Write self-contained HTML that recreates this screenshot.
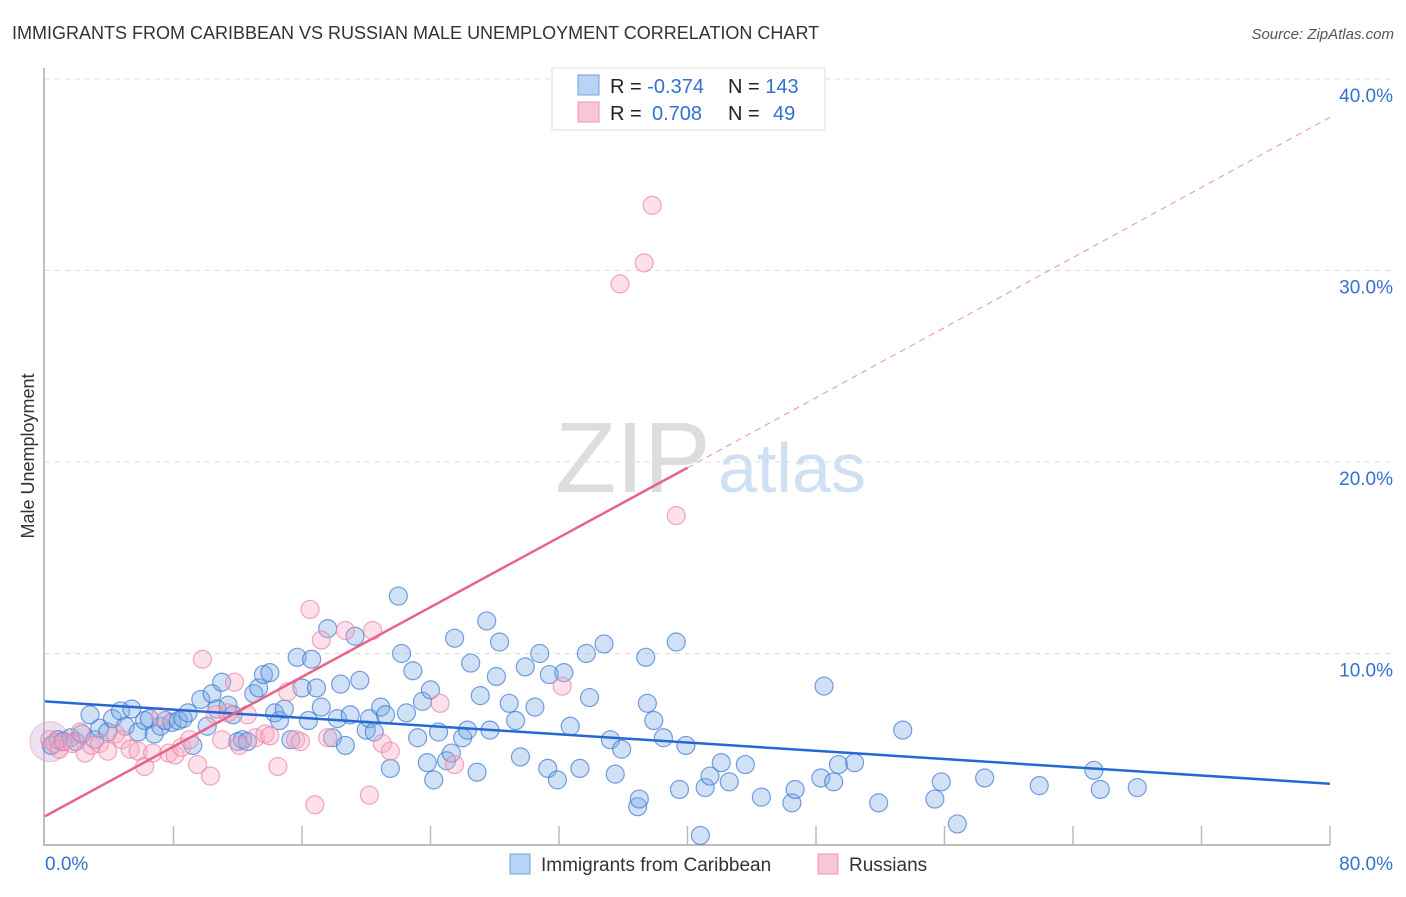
<!DOCTYPE html>
<html><head><meta charset="utf-8"><style>
body{margin:0;background:#fff;font-family:"Liberation Sans",sans-serif;}
svg text{font-family:"Liberation Sans",sans-serif;}
</style></head><body>
<svg id="chart" width="1406" height="892" xmlns="http://www.w3.org/2000/svg">
<text x="12" y="39" font-size="18" fill="#333">IMMIGRANTS FROM CARIBBEAN VS RUSSIAN MALE UNEMPLOYMENT CORRELATION CHART</text>
<text x="1394" y="39" font-size="15" fill="#555" font-style="italic" text-anchor="end">Source: ZipAtlas.com</text>
<text x="34" y="456" font-size="18" fill="#333" text-anchor="middle" transform="rotate(-90 34 456)">Male Unemployment</text>
<text x="555" y="492" font-size="100" fill="#ddd" font-family="Liberation Serif">ZIP</text>
<text x="718" y="492" font-size="70" fill="#cfe0f3">atlas</text>
<g id="grid"></g><g id="axes"></g><g id="pts"></g><g id="lines"></g>
<g>
<rect x="552" y="68" width="273" height="62" fill="#fff" stroke="#ddd"/>
<rect x="578" y="75" width="21" height="20" fill="#b8d4f5" stroke="#6ea0e0"/>
<rect x="578" y="102" width="21" height="20" fill="#f8c6d6" stroke="#ec93b0"/>
<text x="610" y="93" font-size="20" fill="#222">R = <tspan fill="#3470d0">-0.374</tspan><tspan x="728">N = </tspan><tspan fill="#3470d0">143</tspan></text>
<text x="610" y="120" font-size="20" fill="#222">R = <tspan fill="#3470d0" x="652">0.708</tspan><tspan x="728">N = </tspan><tspan fill="#3470d0" x="773">49</tspan></text>
</g>
<g>
<rect x="510" y="854" width="20" height="20" fill="#b8d4f5" stroke="#6ea0e0"/>
<text x="541" y="871" font-size="19" fill="#333">Immigrants from Caribbean</text>
<rect x="818" y="854" width="20" height="20" fill="#f8c6d6" stroke="#ec93b0"/>
<text x="849" y="871" font-size="19" fill="#333">Russians</text>
</g>
</svg>
<script>
const yTicks=[10,20,30,40];
const yTickLabels=["10.0%","20.0%","30.0%","40.0%"];
const xTickLabels=["0.0%","80.0%"];
const blueX=[0.4,0.8,1.1,1.6,1.9,2.3,2.8,3.1,3.4,3.9,4.2,4.7,5.0,5.4,5.8,6.2,6.5,6.8,7.2,7.5,7.9,8.3,8.6,8.9,9.2,9.7,10.1,10.4,10.7,11.0,11.4,11.7,12.0,12.3,12.6,13.0,13.3,13.6,14.0,14.3,14.6,14.9,15.3,15.7,16.0,16.4,16.6,16.9,17.2,17.6,17.9,18.2,18.4,18.7,19.0,19.3,19.6,20.0,20.2,20.5,20.9,21.2,21.5,22.0,22.2,22.5,22.9,23.2,23.5,23.8,24.0,24.2,24.5,25.0,25.3,25.5,26.0,26.3,26.5,26.9,27.1,27.5,27.7,28.1,28.3,28.9,29.3,29.6,29.9,30.5,30.8,31.3,31.4,31.9,32.3,32.7,33.3,33.7,33.9,34.8,35.2,35.5,35.9,36.9,37.0,37.4,37.5,37.9,38.5,39.3,39.5,39.9,40.8,41.1,41.4,42.1,42.6,43.6,44.6,46.5,46.7,48.3,48.5,49.1,49.4,50.4,51.9,53.4,55.4,55.8,56.8,58.5,61.9,65.3,65.7,68.0];
const blueY=[5.2,5.5,5.4,5.6,5.4,5.8,6.8,5.5,6.1,5.9,6.6,7.0,6.2,7.1,5.9,6.5,6.6,5.8,6.2,6.5,6.4,6.5,6.6,6.9,5.2,7.6,6.2,7.9,7.1,8.5,7.3,6.8,5.4,5.5,5.4,7.9,8.2,8.9,9.0,6.9,6.5,7.1,5.5,9.8,8.2,6.5,9.7,8.2,7.2,11.3,5.6,6.6,8.4,5.2,6.8,10.9,8.6,6.0,6.6,5.9,7.2,6.8,4.0,13.0,10.0,6.9,9.1,5.6,7.5,4.3,8.1,3.4,5.9,4.4,4.8,10.8,5.6,6.0,9.5,3.8,7.8,11.7,6.0,8.8,10.6,7.4,6.5,4.6,9.3,7.2,10.0,4.0,8.9,3.4,9.0,6.2,4.0,10.0,7.7,10.5,5.5,3.7,5.0,2.0,2.4,9.8,7.4,6.5,5.6,10.6,2.9,5.2,0.5,3.0,3.6,4.3,3.3,4.2,2.5,2.2,2.9,3.5,8.3,3.3,4.2,4.3,2.2,6.0,2.4,3.3,1.1,3.5,3.1,3.9,2.9,3.0];
const pinkX=[0.3,0.6,0.9,1.2,1.7,2.2,2.5,2.9,3.4,3.9,4.4,4.8,5.3,5.8,6.2,6.7,7.2,7.7,8.1,8.5,9.0,9.5,9.8,10.3,10.6,11.0,11.4,11.8,12.1,12.6,13.1,13.7,14.0,14.5,15.1,15.6,15.9,16.5,16.8,17.2,17.6,18.7,20.2,20.4,21.0,21.5,24.6,25.5,32.2,35.8,37.3,37.8,39.3];
const pinkY=[5.5,5.3,5.0,5.4,5.3,5.9,4.8,5.2,5.3,4.9,5.8,5.5,5.0,4.9,4.1,4.8,6.7,4.8,4.7,5.1,5.5,4.2,9.7,3.6,6.8,5.5,6.9,8.5,5.2,6.8,5.6,5.8,5.7,4.1,8.0,5.5,5.4,12.3,2.1,10.7,5.6,11.2,2.6,11.2,5.3,4.9,7.4,4.2,8.3,29.3,30.4,33.4,17.2];
const blueLine=[0,7.5,80,3.2];
const pinkLine=[0,1.5,40,19.7,80,38.0];
const X0=45,X1=1330,Y0=845,Y1=79;
const xs=v=>X0+(v/80)*(X1-X0);
const ys=v=>Y0-(v/40)*(Y0-Y1);
const NS="http://www.w3.org/2000/svg";
function mk(t,p,a){const e=document.createElementNS(NS,t);for(const k in a)e.setAttribute(k,a[k]);p.appendChild(e);return e;}
const grid=document.getElementById('grid'),axes=document.getElementById('axes'),pts=document.getElementById('pts'),lines=document.getElementById('lines');
yTicks.forEach((t,i)=>{
 const l=mk('line',grid,{x1:X0,x2:1392,y1:ys(t),y2:ys(t),stroke:'#ddd','stroke-dasharray':'5,5'});
 
 
 const tx=mk('text',grid,{x:1393,y:ys(t)+23,'font-size':19,fill:'#3470d0','text-anchor':'end'});
 tx.textContent=yTickLabels[i];
 
 
});
const ax=mk('path',axes,{d:`M${X0-1} 68 V${Y0} H${X1}`,stroke:'#aaa',fill:'none','stroke-width':1.5});


for(let i=1;i<=10;i++){
 const tk=mk('line',axes,{x1:xs(i*8),x2:xs(i*8),y1:Y0-19,y2:Y0,stroke:'#bbb','stroke-width':1.5});
 
 
}
[[0,'start',45],[80,'end',1393]].forEach((d,i)=>{
 const tx=mk('text',axes,{x:d[2],y:870,'font-size':19,fill:'#3470d0','text-anchor':d[1]});
 tx.textContent=xTickLabels[i];
 
 
});
const big=mk('circle',pts,{cx:xs(0.3),cy:ys(5.4),r:20,fill:'rgba(200,170,220,0.35)',stroke:'rgba(230,140,170,0.5)'});


blueX.forEach((x,i)=>{
 const c=mk('circle',pts,{cx:xs(x),cy:ys(blueY[i]),r:9,fill:'rgba(120,170,230,0.35)',stroke:'rgba(60,120,210,0.7)','stroke-width':1.2});
 
 
});
pinkX.forEach((x,i)=>{
 const c=mk('circle',pts,{cx:xs(x),cy:ys(pinkY[i]),r:9,fill:'rgba(245,170,195,0.35)',stroke:'rgba(235,130,165,0.7)','stroke-width':1.2});
 
 
});
const bl=mk('line',lines,{x1:xs(blueLine[0]),y1:ys(blueLine[1]),x2:xs(blueLine[2]),y2:ys(blueLine[3]),stroke:'#2468d4','stroke-width':2.5});


const pl=mk('line',lines,{x1:xs(pinkLine[0]),y1:ys(pinkLine[1]),x2:xs(pinkLine[2]),y2:ys(pinkLine[3]),stroke:'#e8628c','stroke-width':2.5});


const pd=mk('line',lines,{x1:xs(pinkLine[2]),y1:ys(pinkLine[3]),x2:xs(pinkLine[4]),y2:ys(pinkLine[5]),stroke:'#eba0b8','stroke-width':1.2,'stroke-dasharray':'6,5'});


</script>
</body></html>
